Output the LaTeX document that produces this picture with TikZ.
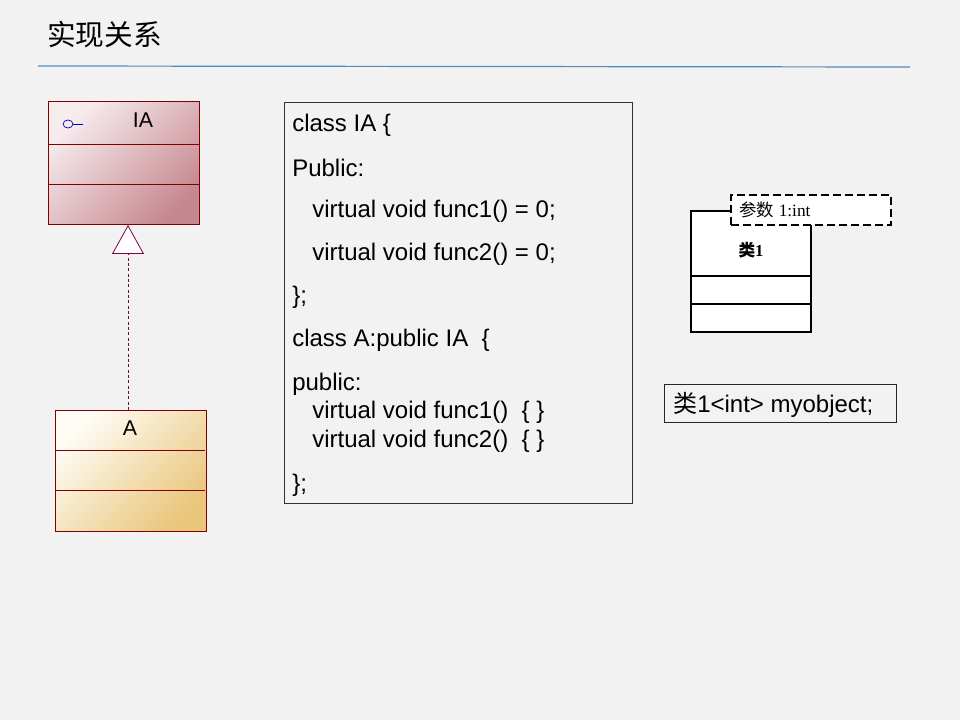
\documentclass[tikz,border=0pt]{standalone}
\usepackage{fontspec}
\setmainfont{Liberation Sans}
\newfontfamily\cjk{Noto Sans CJK SC}
\newfontfamily\serifx{Liberation Serif}
\usetikzlibrary{arrows.meta}
\definecolor{bg}{RGB}{242,242,242}
\definecolor{rule}{RGB}{80,140,190}
\definecolor{dred}{RGB}{128,0,0}
\definecolor{dpurp}{RGB}{128,0,64}
\definecolor{pinkA}{RGB}{246,236,238}
\definecolor{pinkB}{RGB}{198,136,144}
\definecolor{yelA}{RGB}{255,252,246}
\definecolor{yelB}{RGB}{233,198,124}
\definecolor{icon}{RGB}{0,0,170}
\tikzset{
  x=0.75pt, y=-0.75pt,
  umlbox/.style={draw=dred, line width=0.75pt, rectangle, inner sep=0pt},
  codeline/.style={anchor=west, inner sep=0pt, font=\fontsize{18}{20}\selectfont},
  tmplbox/.style={draw=black, line width=1.1pt, fill=white, rectangle, inner sep=0pt},
}
\begin{document}
\begin{tikzpicture}
\fill[bg] (0,0) rectangle (960,720);
\useasboundingbox (0,0) rectangle (960,720);
% title
\node[anchor=west, inner sep=0pt, font=\cjk\fontsize{21.5}{23}\selectfont] (title) at (47,35) {实现关系};
\coordinate (r1) at (38,66);
\coordinate (r2) at (910,67);
\draw[rule, line width=0.9pt] (r1) -- (r2);
% IA class
\node[umlbox, top color=pinkA, bottom color=pinkB, shading angle=45, minimum width=113.25pt, minimum height=92.25pt] (IA) at (123.5,163.5) {};
\draw[dred, line width=0.6pt] (48,144) -- (199,144) (48,184) -- (199,184);
\node[font=\fontsize{16}{18}\selectfont, inner sep=0pt] (IAname) at (143,120) {IA};
\draw[icon, line width=0.5pt] (68,124) ellipse [x radius=5, y radius=4];
\draw[icon, line width=0.5pt] (73,124) -- (83,124);
% A class
\node[umlbox, top color=yelA, bottom color=yelB, shading angle=45, minimum width=113.25pt, minimum height=90.75pt] (A) at (130.5,470.5) {};
\draw[dred, line width=0.6pt] (55,450) -- (205,450) (55,490) -- (205,490);
\node[font=\fontsize{16}{18}\selectfont, inner sep=0pt] (Aname) at (130,428) {A};
% realization
\coordinate (Atop) at (128,410);
\coordinate (IAbot) at (128,225);
\draw[dpurp, line width=0.6pt, dash pattern=on 2.2pt off 1.8pt,
  -{Triangle[open, fill=white, width=24pt, length=21.75pt, line width=0.6pt]}] (Atop) -- (IAbot);
% code box
\node[draw=black!80, line width=0.6pt, rectangle, minimum width=261pt, minimum height=300.75pt, inner sep=0pt] (code) at (458,302.5) {};
\node[codeline] (c1) at (292,125) {class IA \{};
\node[codeline] (c2) at (292,168) {Public:};
\node[codeline] (c3) at (312,211) {virtual void func1() = 0;};
\node[codeline] (c4) at (312,254) {virtual void func2() = 0;};
\node[codeline] (c5) at (292,297) {\};};
\node[codeline] (c6) at (292,340) {class A:public IA\ \ \{};
\node[codeline] (c7) at (292,384) {public:};
\node[codeline] (c8) at (312,412) {virtual void func1()\ \ \{ \}};
\node[codeline] (c9) at (312,441) {virtual void func2()\ \ \{ \}};
\node[codeline] (c10) at (292,485) {\};};
% template class
\node[tmplbox, minimum width=90pt, minimum height=90.75pt] (T) at (751,271.5) {};
\draw[black, line width=1.1pt] (691,276) -- (811,276) (691,304) -- (811,304);
\node[inner sep=0pt, font=\bfseries\fontsize{12.5}{14}\selectfont] (Tname) at (751,250) {{\cjk\bfseries 类}{\serifx\bfseries 1}};
\node[draw=black, dash pattern=on 6pt off 3pt, line width=1.1pt, fill=white, rectangle, inner sep=0pt, minimum width=120pt, minimum height=22.5pt] (P) at (811,210) {};
\node[anchor=west, inner sep=0pt, font=\fontsize{13}{15}\selectfont] (Ptext) at (739,210) {{\cjk 参数} {\serifx 1:int}};
% object box
\node[draw=black!85, line width=0.6pt, rectangle, minimum width=174pt, minimum height=28.5pt, inner sep=0pt] (obj) at (780,403) {};
\node[codeline] (objtext) at (673,405) {{\cjk 类}1<int> myobject;};
\end{tikzpicture}
\end{document}
